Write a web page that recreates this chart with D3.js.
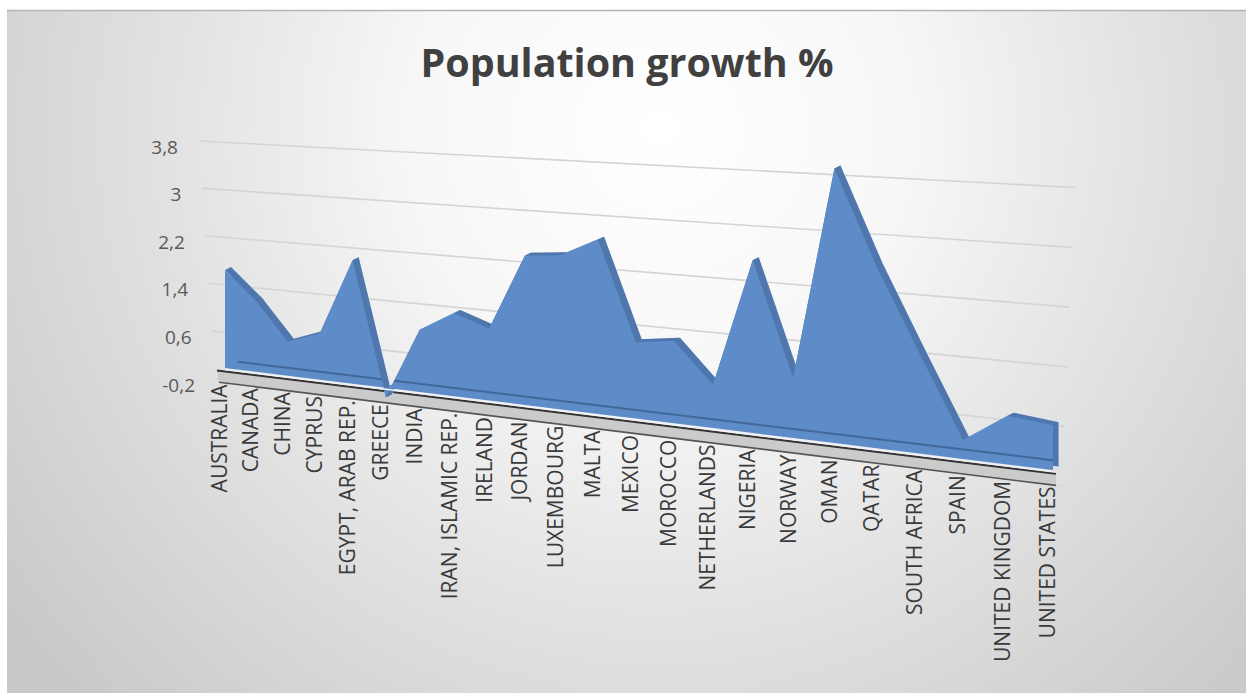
<!DOCTYPE html>
<html><head><meta charset="utf-8">
<script src="https://cdn.jsdelivr.net/npm/d3@7"></script>
<style>html,body{margin:0;padding:0;background:#fff;overflow:hidden}</style>
</head><body><svg id="chart" width="1252" height="693"></svg>
<script>
const title = "Population growth %";
const categories = ["AUSTRALIA","CANADA","CHINA","CYPRUS","EGYPT, ARAB REP.","GREECE","INDIA","IRAN, ISLAMIC REP.","IRELAND","JORDAN","LUXEMBOURG","MALTA","MEXICO","MOROCCO","NETHERLANDS","NIGERIA","NORWAY","OMAN","QATAR","SOUTH AFRICA","SPAIN","UNITED KINGDOM","UNITED STATES"];
const growth = [1.65,1.18,0.56,0.76,2.0,-0.15,0.99,1.31,1.12,2.3,2.35,2.63,1.14,1.22,0.63,2.5,0.86,3.89,2.55,1.39,0.26,0.66,0.6];
const yTickValues = [-0.2,0.6,1.4,2.2,3,3.8];
const yTickLabels = ["-0,2","0,6","1,4","2,2","3","3,8"];

const svg = d3.select("#chart");
const defs = svg.append("defs");
const rg = defs.append("radialGradient").attr("id","bg")
  .attr("gradientUnits","userSpaceOnUse").attr("cx",660).attr("cy",130).attr("r",820);
[[0,"#ffffff"],[0.3,"#f7f7f7"],[0.6,"#e2e2e2"],[1,"#c8c8c8"]].forEach(s=>
  rg.append("stop").attr("offset",s[0]).attr("stop-color",s[1]));

svg.append("rect").attr("x",7).attr("y",10).attr("width",1239).attr("height",683).attr("fill","url(#bg)");
svg.append("line").attr("x1",7).attr("x2",1246).attr("y1",10.5).attr("y2",10.5).attr("stroke","#b5b5b5").attr("stroke-width",1.5);

// perspective mapping
const c = 0.18;
const persp = u => u*(1-c)/(1-c*u);
const n = categories.length;
const idx = d3.scaleLinear().domain([0,n-1]).range([0,1]);
const xProj = d3.scaleLinear().domain([0,1]).range([225,1053]);
const xPos = i => xProj(persp(idx(i)));
const zeroY = d3.scaleLinear().domain([225,1053]).range([368,470]);
const unitPx = d3.scaleLinear().domain([205,1072]).range([59,75]);
const yScale = d3.scaleLinear().domain([0,1]).range([0,-1]);
const P = (x,v) => zeroY(x) + unitPx(x)*yScale(v);
const labelY = d3.scaleLinear().domain([-0.2,3.8]).range([385,147]);
const labelX = d3.scaleLinear().domain([-0.2,3.8]).range([195,178]);
const gridX1 = d3.scaleLinear().domain([-0.2,3.8]).range([215,199]);
const gridX2 = d3.scaleLinear().domain([-0.2,3.8]).range([1062,1075]);

// gridlines
yTickValues.forEach(v=>{
  const x1 = gridX1(v), x2 = gridX2(v);
  svg.append("line").attr("x1",x1).attr("y1",P(x1,v)).attr("x2",x2).attr("y2",P(x2,v))
    .attr("stroke","#d4d4d4").attr("stroke-width",1.6);
});

// y labels
svg.selectAll("text.ytick").data(yTickValues).enter().append("text")
  .attr("class","ytick").attr("x",d=>labelX(d)).attr("y",d=>labelY(d)).attr("dy","0.35em")
  .attr("text-anchor","end").attr("font-family","'Open Sans', sans-serif").attr("font-size",19)
  .attr("fill","#595959").text((d,i)=>yTickLabels[i]);

// floor band
const fx1 = 217, fx2 = 1056;
svg.append("polygon").attr("points",[[fx1,zeroY(fx1)+3.5],[fx2,zeroY(fx2)+3.5],[fx2,zeroY(fx2)+15],[fx1+2,zeroY(fx1+2)+15]].map(p=>p.join(",")).join(" "))
  .attr("fill","#cbcbcb");
svg.append("line").attr("x1",fx1).attr("y1",zeroY(fx1)+3.5).attr("x2",fx2).attr("y2",zeroY(fx2)+3.5)
  .attr("stroke","#333333").attr("stroke-width",2);
svg.append("line").attr("x1",fx1+2).attr("y1",zeroY(fx1+2)+15).attr("x2",fx2).attr("y2",zeroY(fx2)+15)
  .attr("stroke","#555555").attr("stroke-width",1.6);

// area series
const pts = growth.map((v,i)=>{const x=xPos(i); return {x:x, y:P(x,v)};});
const area = d3.area().x(d=>d.x).y0(d=>zeroY(d.x)).y1(d=>d.y).curve(d3.curveLinear);
const off = [6,-3];
const dark = "#4f77ad";
svg.append("path").attr("d",area(pts)).attr("fill",dark)
  .attr("transform",`translate(${off[0]},${off[1]})`)
  .attr("stroke","#dfe7f2").attr("stroke-width",0.8);
for(let i=0;i<n-1;i++){
  const a=pts[i], b=pts[i+1];
  svg.append("polygon").attr("points",[[a.x,a.y],[b.x,b.y],[b.x+off[0],b.y+off[1]],[a.x+off[0],a.y+off[1]]].map(p=>p.join(",")).join(" "))
    .attr("fill",dark);
}
defs.append("clipPath").attr("id","frontClip").append("path").attr("d",area(pts));
svg.append("path").attr("d",area(pts)).attr("fill","#5e8cc8");
const lx1 = 238, lx2 = 1055;
svg.append("line").attr("x1",lx1).attr("y1",P(lx1,0.13)).attr("x2",lx2).attr("y2",P(lx2,0.13))
  .attr("stroke","#41679b").attr("stroke-width",2).attr("clip-path","url(#frontClip)");
svg.append("line").attr("x1",xPos(0)).attr("y1",zeroY(xPos(0))+1.5).attr("x2",xPos(n-1)).attr("y2",zeroY(xPos(n-1))+1.5)
  .attr("stroke","#eef2f8").attr("stroke-width",1.5);

// category labels
svg.selectAll("text.cat").data(categories).enter().append("text")
  .attr("class","cat")
  .attr("transform",(d,i)=>{const xc=xPos(i)-5; return `translate(${xc},${zeroY(xc)+17}) rotate(-90)`;})
  .attr("dy","0.35em").attr("text-anchor","end")
  .attr("font-family","'Open Sans', sans-serif").attr("font-size",21).attr("fill","#3a3a3a")
  .text(d=>d);

// title
svg.append("text").attr("x",627).attr("y",77).attr("text-anchor","middle")
  .attr("font-family","'Open Sans', sans-serif").attr("font-weight","bold").attr("font-size",39)
  .attr("fill","#404040").attr("textLength",413).attr("lengthAdjust","spacingAndGlyphs").text(title);
</script></body></html>
